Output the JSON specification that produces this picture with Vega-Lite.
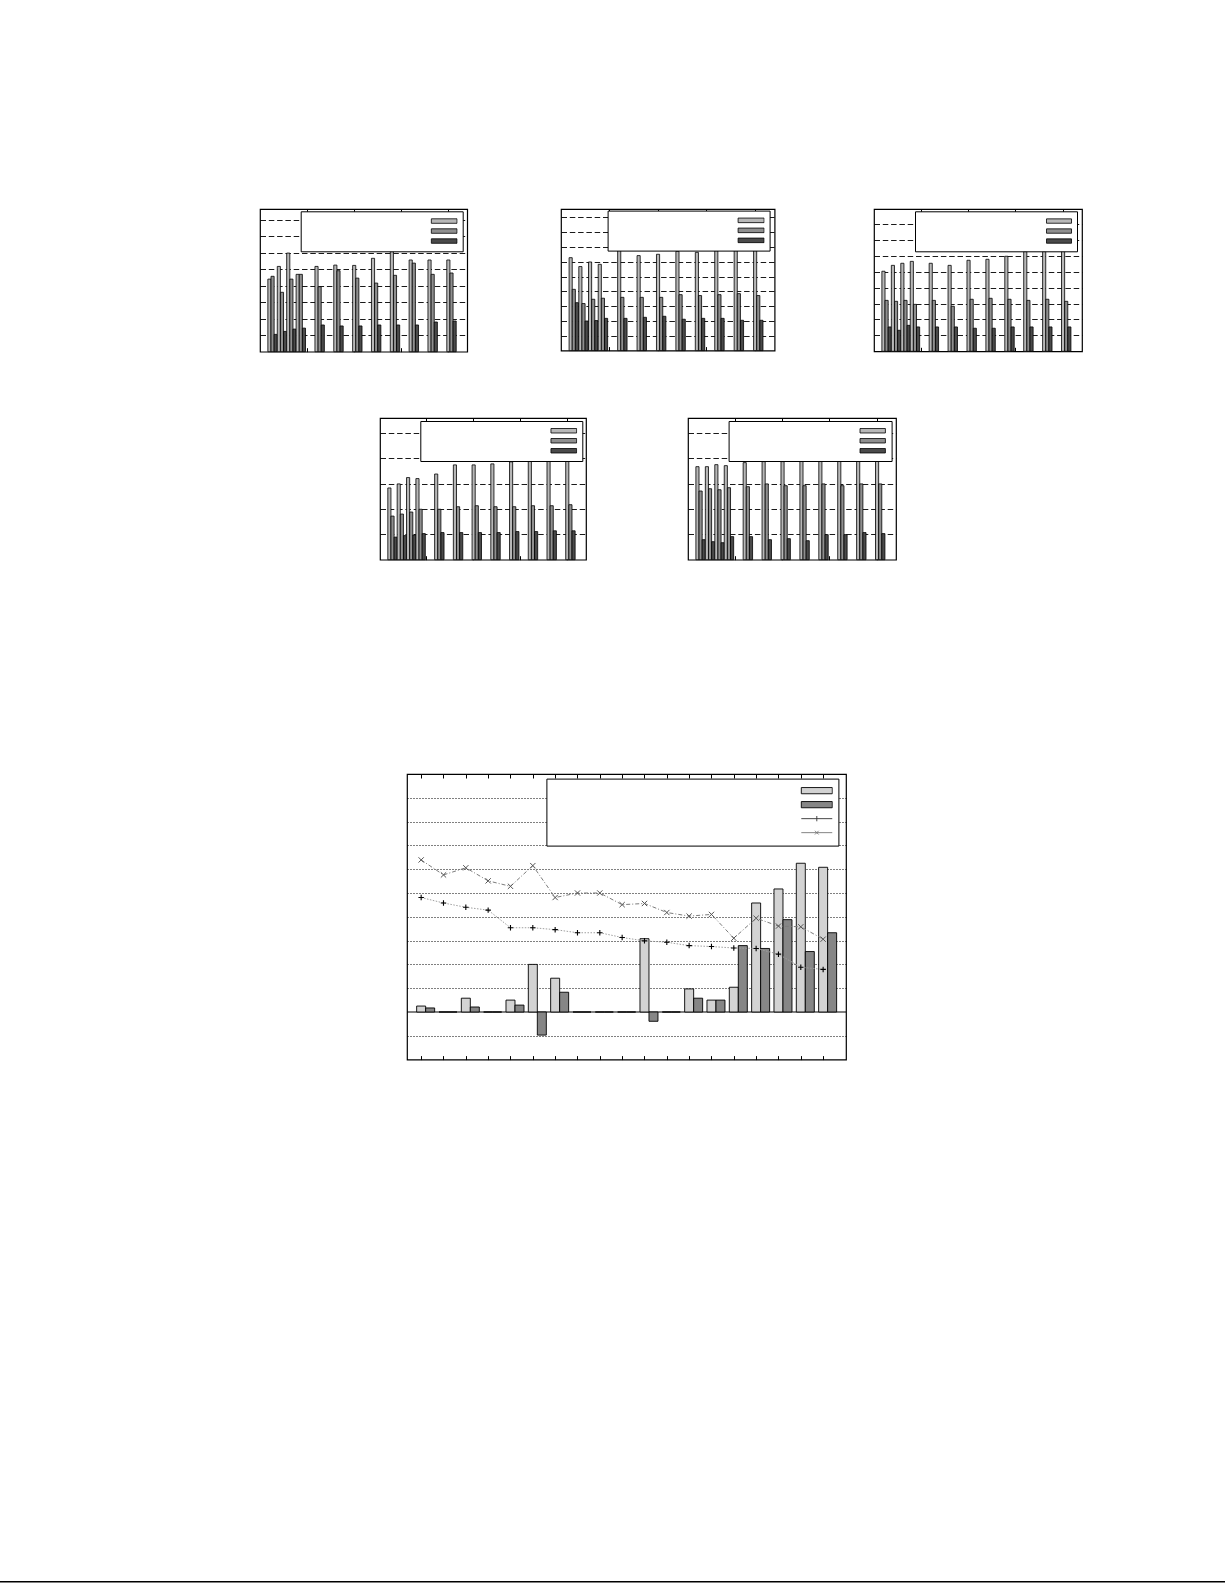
{
  "$schema": "https://vega.github.io/schema/vega-lite/v6.json",
  "padding": 0,
  "background": "white",
  "spacing": 0,
  "config": {"view": {"stroke": null}},
  "resolve": {
    "scale": {"color": "independent", "shape": "independent", "stroke": "independent", "fill": "independent"},
    "legend": {"color": "independent", "shape": "independent", "stroke": "independent", "fill": "independent"}
  },
  "datasets": {
    "c1": [
      {"x": 1, "s": "a", "v": 4.40}, {"x": 1, "s": "b", "v": 4.57}, {"x": 1, "s": "c", "v": 1.05},
      {"x": 2, "s": "a", "v": 5.17}, {"x": 2, "s": "b", "v": 3.60}, {"x": 2, "s": "c", "v": 1.23},
      {"x": 3, "s": "a", "v": 5.98}, {"x": 3, "s": "b", "v": 4.40}, {"x": 3, "s": "c", "v": 1.37},
      {"x": 4, "s": "a", "v": 4.69}, {"x": 4, "s": "b", "v": 4.69}, {"x": 4, "s": "c", "v": 1.43},
      {"x": 6, "s": "a", "v": 5.17}, {"x": 6, "s": "b", "v": 3.94}, {"x": 6, "s": "c", "v": 1.62},
      {"x": 8, "s": "a", "v": 5.25}, {"x": 8, "s": "b", "v": 4.91}, {"x": 8, "s": "c", "v": 1.56},
      {"x": 10, "s": "a", "v": 5.23}, {"x": 10, "s": "b", "v": 4.46}, {"x": 10, "s": "c", "v": 1.56},
      {"x": 12, "s": "a", "v": 5.66}, {"x": 12, "s": "b", "v": 4.16}, {"x": 12, "s": "c", "v": 1.62},
      {"x": 14, "s": "a", "v": 6.16}, {"x": 14, "s": "b", "v": 4.63}, {"x": 14, "s": "c", "v": 1.62},
      {"x": 16, "s": "a", "v": 5.56}, {"x": 16, "s": "b", "v": 5.37}, {"x": 16, "s": "c", "v": 1.62},
      {"x": 18, "s": "a", "v": 5.56}, {"x": 18, "s": "b", "v": 4.69}, {"x": 18, "s": "c", "v": 1.80},
      {"x": 20, "s": "a", "v": 5.56}, {"x": 20, "s": "b", "v": 4.77}, {"x": 20, "s": "c", "v": 1.86}
    ],
    "c2": [
      {"x": 1, "s": "a", "v": 6.28}, {"x": 1, "s": "b", "v": 4.14}, {"x": 1, "s": "c", "v": 3.24},
      {"x": 2, "s": "a", "v": 5.68}, {"x": 2, "s": "b", "v": 3.18}, {"x": 2, "s": "c", "v": 2.00},
      {"x": 3, "s": "a", "v": 5.99}, {"x": 3, "s": "b", "v": 3.47}, {"x": 3, "s": "c", "v": 2.03},
      {"x": 4, "s": "a", "v": 5.83}, {"x": 4, "s": "b", "v": 3.54}, {"x": 4, "s": "c", "v": 2.18},
      {"x": 6, "s": "a", "v": 6.85}, {"x": 6, "s": "b", "v": 3.60}, {"x": 6, "s": "c", "v": 2.18},
      {"x": 8, "s": "a", "v": 6.42}, {"x": 8, "s": "b", "v": 3.60}, {"x": 8, "s": "c", "v": 2.25},
      {"x": 10, "s": "a", "v": 6.51}, {"x": 10, "s": "b", "v": 3.60}, {"x": 10, "s": "c", "v": 2.32},
      {"x": 12, "s": "a", "v": 6.71}, {"x": 12, "s": "b", "v": 3.78}, {"x": 12, "s": "c", "v": 2.12},
      {"x": 14, "s": "a", "v": 6.64}, {"x": 14, "s": "b", "v": 3.72}, {"x": 14, "s": "c", "v": 2.18},
      {"x": 16, "s": "a", "v": 6.76}, {"x": 16, "s": "b", "v": 3.78}, {"x": 16, "s": "c", "v": 2.18},
      {"x": 18, "s": "a", "v": 6.76}, {"x": 18, "s": "b", "v": 3.85}, {"x": 18, "s": "c", "v": 2.05},
      {"x": 20, "s": "a", "v": 6.76}, {"x": 20, "s": "b", "v": 3.72}, {"x": 20, "s": "c", "v": 2.05}
    ],
    "c3": [
      {"x": 1, "s": "a", "v": 5.03}, {"x": 1, "s": "b", "v": 3.20}, {"x": 1, "s": "c", "v": 1.53},
      {"x": 2, "s": "a", "v": 5.40}, {"x": 2, "s": "b", "v": 3.14}, {"x": 2, "s": "c", "v": 1.32},
      {"x": 3, "s": "a", "v": 5.53}, {"x": 3, "s": "b", "v": 3.20}, {"x": 3, "s": "c", "v": 1.63},
      {"x": 4, "s": "a", "v": 5.65}, {"x": 4, "s": "b", "v": 2.95}, {"x": 4, "s": "c", "v": 1.53},
      {"x": 6, "s": "a", "v": 5.53}, {"x": 6, "s": "b", "v": 3.20}, {"x": 6, "s": "c", "v": 1.53},
      {"x": 8, "s": "a", "v": 5.40}, {"x": 8, "s": "b", "v": 2.83}, {"x": 8, "s": "c", "v": 1.53},
      {"x": 10, "s": "a", "v": 5.72}, {"x": 10, "s": "b", "v": 3.27}, {"x": 10, "s": "c", "v": 1.45},
      {"x": 12, "s": "a", "v": 5.78}, {"x": 12, "s": "b", "v": 3.33}, {"x": 12, "s": "c", "v": 1.45},
      {"x": 14, "s": "a", "v": 5.97}, {"x": 14, "s": "b", "v": 3.27}, {"x": 14, "s": "c", "v": 1.53},
      {"x": 16, "s": "a", "v": 6.28}, {"x": 16, "s": "b", "v": 3.20}, {"x": 16, "s": "c", "v": 1.53},
      {"x": 18, "s": "a", "v": 6.28}, {"x": 18, "s": "b", "v": 3.27}, {"x": 18, "s": "c", "v": 1.53},
      {"x": 20, "s": "a", "v": 6.37}, {"x": 20, "s": "b", "v": 3.14}, {"x": 20, "s": "c", "v": 1.53}
    ],
    "c4": [
      {"x": 1, "s": "a", "v": 2.83}, {"x": 1, "s": "b", "v": 1.72}, {"x": 1, "s": "c", "v": 0.89},
      {"x": 2, "s": "a", "v": 2.99}, {"x": 2, "s": "b", "v": 1.80}, {"x": 2, "s": "c", "v": 0.95},
      {"x": 3, "s": "a", "v": 3.24}, {"x": 3, "s": "b", "v": 1.88}, {"x": 3, "s": "c", "v": 0.97},
      {"x": 4, "s": "a", "v": 3.20}, {"x": 4, "s": "b", "v": 1.99}, {"x": 4, "s": "c", "v": 1.03},
      {"x": 6, "s": "a", "v": 3.38}, {"x": 6, "s": "b", "v": 1.99}, {"x": 6, "s": "c", "v": 1.07},
      {"x": 8, "s": "a", "v": 3.74}, {"x": 8, "s": "b", "v": 2.09}, {"x": 8, "s": "c", "v": 1.07},
      {"x": 10, "s": "a", "v": 3.74}, {"x": 10, "s": "b", "v": 2.13}, {"x": 10, "s": "c", "v": 1.07},
      {"x": 12, "s": "a", "v": 3.78}, {"x": 12, "s": "b", "v": 2.09}, {"x": 12, "s": "c", "v": 1.07},
      {"x": 14, "s": "a", "v": 3.86}, {"x": 14, "s": "b", "v": 2.09}, {"x": 14, "s": "c", "v": 1.11},
      {"x": 16, "s": "a", "v": 3.89}, {"x": 16, "s": "b", "v": 2.13}, {"x": 16, "s": "c", "v": 1.11},
      {"x": 18, "s": "a", "v": 3.95}, {"x": 18, "s": "b", "v": 2.13}, {"x": 18, "s": "c", "v": 1.14},
      {"x": 20, "s": "a", "v": 4.05}, {"x": 20, "s": "b", "v": 2.17}, {"x": 20, "s": "c", "v": 1.14}
    ],
    "c5": [
      {"x": 1, "s": "a", "v": 3.67}, {"x": 1, "s": "b", "v": 2.71}, {"x": 1, "s": "c", "v": 0.79},
      {"x": 2, "s": "a", "v": 3.67}, {"x": 2, "s": "b", "v": 2.80}, {"x": 2, "s": "c", "v": 0.71},
      {"x": 3, "s": "a", "v": 3.75}, {"x": 3, "s": "b", "v": 2.76}, {"x": 3, "s": "c", "v": 0.67},
      {"x": 4, "s": "a", "v": 3.71}, {"x": 4, "s": "b", "v": 2.84}, {"x": 4, "s": "c", "v": 0.91},
      {"x": 6, "s": "a", "v": 3.83}, {"x": 6, "s": "b", "v": 2.88}, {"x": 6, "s": "c", "v": 0.91},
      {"x": 8, "s": "a", "v": 3.87}, {"x": 8, "s": "b", "v": 2.99}, {"x": 8, "s": "c", "v": 0.79},
      {"x": 10, "s": "a", "v": 3.87}, {"x": 10, "s": "b", "v": 2.92}, {"x": 10, "s": "c", "v": 0.83},
      {"x": 12, "s": "a", "v": 4.10}, {"x": 12, "s": "b", "v": 2.92}, {"x": 12, "s": "c", "v": 0.75},
      {"x": 14, "s": "a", "v": 4.10}, {"x": 14, "s": "b", "v": 2.99}, {"x": 14, "s": "c", "v": 0.99},
      {"x": 16, "s": "a", "v": 4.10}, {"x": 16, "s": "b", "v": 2.92}, {"x": 16, "s": "c", "v": 0.99},
      {"x": 18, "s": "a", "v": 3.91}, {"x": 18, "s": "b", "v": 2.99}, {"x": 18, "s": "c", "v": 1.07},
      {"x": 20, "s": "a", "v": 4.10}, {"x": 20, "s": "b", "v": 2.99}, {"x": 20, "s": "c", "v": 1.03}
    ],
    "big": [
      {"x": 1, "s": "A", "v": 0.25}, {"x": 1, "s": "B", "v": 0.17}, {"x": 1, "s": "C", "v": 4.81}, {"x": 1, "s": "D", "v": 6.39},
      {"x": 2, "s": "A", "v": 0}, {"x": 2, "s": "B", "v": 0}, {"x": 2, "s": "C", "v": 4.58}, {"x": 2, "s": "D", "v": 5.76},
      {"x": 3, "s": "A", "v": 0.58}, {"x": 3, "s": "B", "v": 0.21}, {"x": 3, "s": "C", "v": 4.40}, {"x": 3, "s": "D", "v": 6.06},
      {"x": 4, "s": "A", "v": 0}, {"x": 4, "s": "B", "v": 0}, {"x": 4, "s": "C", "v": 4.28}, {"x": 4, "s": "D", "v": 5.51},
      {"x": 5, "s": "A", "v": 0.50}, {"x": 5, "s": "B", "v": 0.29}, {"x": 5, "s": "C", "v": 3.54}, {"x": 5, "s": "D", "v": 5.28},
      {"x": 6, "s": "A", "v": 2.00}, {"x": 6, "s": "B", "v": -0.97}, {"x": 6, "s": "C", "v": 3.54}, {"x": 6, "s": "D", "v": 6.15},
      {"x": 7, "s": "A", "v": 1.42}, {"x": 7, "s": "B", "v": 0.83}, {"x": 7, "s": "C", "v": 3.46}, {"x": 7, "s": "D", "v": 4.81},
      {"x": 8, "s": "A", "v": 0}, {"x": 8, "s": "B", "v": 0}, {"x": 8, "s": "C", "v": 3.33}, {"x": 8, "s": "D", "v": 5.00},
      {"x": 9, "s": "A", "v": 0}, {"x": 9, "s": "B", "v": 0}, {"x": 9, "s": "C", "v": 3.33}, {"x": 9, "s": "D", "v": 5.00},
      {"x": 10, "s": "A", "v": 0}, {"x": 10, "s": "B", "v": 0}, {"x": 10, "s": "C", "v": 3.13}, {"x": 10, "s": "D", "v": 4.51},
      {"x": 11, "s": "A", "v": 3.08}, {"x": 11, "s": "B", "v": -0.39}, {"x": 11, "s": "C", "v": 2.99}, {"x": 11, "s": "D", "v": 4.56},
      {"x": 12, "s": "A", "v": 0}, {"x": 12, "s": "B", "v": 0}, {"x": 12, "s": "C", "v": 2.93}, {"x": 12, "s": "D", "v": 4.18},
      {"x": 13, "s": "A", "v": 0.97}, {"x": 13, "s": "B", "v": 0.58}, {"x": 13, "s": "C", "v": 2.79}, {"x": 13, "s": "D", "v": 4.03},
      {"x": 14, "s": "A", "v": 0.50}, {"x": 14, "s": "B", "v": 0.50}, {"x": 14, "s": "C", "v": 2.75}, {"x": 14, "s": "D", "v": 4.10},
      {"x": 15, "s": "A", "v": 1.04}, {"x": 15, "s": "B", "v": 2.79}, {"x": 15, "s": "C", "v": 2.69}, {"x": 15, "s": "D", "v": 3.10},
      {"x": 16, "s": "A", "v": 4.58}, {"x": 16, "s": "B", "v": 2.67}, {"x": 16, "s": "C", "v": 2.67}, {"x": 16, "s": "D", "v": 3.94},
      {"x": 17, "s": "A", "v": 5.17}, {"x": 17, "s": "B", "v": 3.88}, {"x": 17, "s": "C", "v": 2.43}, {"x": 17, "s": "D", "v": 3.61},
      {"x": 18, "s": "A", "v": 6.25}, {"x": 18, "s": "B", "v": 2.54}, {"x": 18, "s": "C", "v": 1.88}, {"x": 18, "s": "D", "v": 3.58},
      {"x": 19, "s": "A", "v": 6.08}, {"x": 19, "s": "B", "v": 3.33}, {"x": 19, "s": "C", "v": 1.79}, {"x": 19, "s": "D", "v": 3.06}
    ]
  },
  "vconcat": [
    {"width": 1, "height": 206.8, "data": {"values": []}, "mark": {"type": "point", "opacity": 0}},
    {
      "spacing": 0,
      "resolve": {"scale": {"color": "independent"}, "legend": {"color": "independent"}},
      "hconcat": [
        {"width": 258.3, "height": 1, "data": {"values": []}, "mark": {"type": "point", "opacity": 0}},
        {
          "width": 207.2, "height": 142.7,
          "data": {"name": "c1"},
          "view": {"stroke": "black", "strokeWidth": 1.2},
          "resolve": {"axis": {"x": "independent"}},
          "layer": [
            {
              "mark": {"type": "bar", "stroke": "black", "strokeWidth": 0.8},
              "encoding": {
                "x": {"field": "x", "type": "ordinal",
                  "scale": {"domain": [1,2,3,4,5,6,7,8,9,10,11,12,13,14,15,16,17,18,19,20,21], "paddingInner": 0, "paddingOuter": 0.5, "align": 0.8333},
                  "axis": {"orient": "bottom", "values": [5,10,15,20], "tickCount": 50, "bandPosition": 0.1667, "labels": false, "domain": false, "grid": false, "tickSize": -4, "tickColor": "black", "tickWidth": 1, "title": null}},
                "xOffset": {"field": "s", "type": "nominal", "scale": {"paddingInner": 0, "paddingOuter": 0}},
                "y": {"field": "v", "type": "quantitative", "scale": {"domain": [0, 8.65], "nice": false},
                  "axis": {"values": [1,2,3,4,5,6,7,8], "tickCount": 50, "grid": true, "gridColor": "black", "gridWidth": 0.9, "gridDash": [5.5, 2.8], "gridOpacity": 1, "labels": false, "ticks": false, "domain": false, "title": null}},
                "color": {"field": "s", "type": "nominal", "scale": {"domain": ["a","b","c"], "range": ["#b8b8b8", "#8f8f8f", "#4a4a4a"]},
                  "legend": {"orient": "none", "legendX": 40.7, "legendY": 2.3, "title": null, "fillColor": "white", "strokeColor": "black", "padding": 5, "cornerRadius": 0,
                    "symbolType": "M-1,-0.175H1V0.175H-1Z", "symbolSize": 660, "symbolStrokeColor": "black", "symbolStrokeWidth": 0.8, "symbolOffset": 125,
                    "labelExpr": "''", "labelOffset": 0, "labelFontSize": 1, "clipHeight": 9.5, "rowPadding": 0, "zindex": 1}}
              }
            },
            {
              "mark": {"type": "point", "opacity": 0},
              "encoding": {
                "x": {"field": "x", "type": "ordinal",
                  "scale": {"domain": [1,2,3,4,5,6,7,8,9,10,11,12,13,14,15,16,17,18,19,20,21], "paddingInner": 0, "paddingOuter": 0.5, "align": 0.8333},
                  "axis": {"orient": "top", "values": [5,10,15,20], "tickCount": 50, "bandPosition": 0.1667, "labels": false, "domain": false, "grid": false, "tickSize": -4, "tickColor": "black", "tickWidth": 1, "title": null}}
              }
            }
          ]
        },
        {"width": 91.6, "height": 1, "data": {"values": []}, "mark": {"type": "point", "opacity": 0}},
        {
          "width": 213.6, "height": 141.6,
          "data": {"name": "c2"},
          "view": {"stroke": "black", "strokeWidth": 1.2},
          "resolve": {"axis": {"x": "independent"}},
          "layer": [
            {
              "mark": {"type": "bar", "stroke": "black", "strokeWidth": 0.8},
              "encoding": {
                "x": {"field": "x", "type": "ordinal",
                  "scale": {"domain": [1,2,3,4,5,6,7,8,9,10,11,12,13,14,15,16,17,18,19,20,21], "paddingInner": 0, "paddingOuter": 0.5, "align": 0.8333},
                  "axis": {"orient": "bottom", "values": [5,10,15,20], "tickCount": 50, "bandPosition": 0.1667, "labels": false, "domain": false, "grid": false, "tickSize": -4, "tickColor": "black", "tickWidth": 1, "title": null}},
                "xOffset": {"field": "s", "type": "nominal", "scale": {"paddingInner": 0, "paddingOuter": 0}},
                "y": {"field": "v", "type": "quantitative", "scale": {"domain": [0, 9.57], "nice": false},
                  "axis": {"values": [1,2,3,4,5,6,7,8,9], "tickCount": 50, "grid": true, "gridColor": "black", "gridWidth": 0.9, "gridDash": [5.5, 2.8], "gridOpacity": 1, "labels": false, "ticks": false, "domain": false, "title": null}},
                "color": {"field": "s", "type": "nominal", "scale": {"domain": ["a","b","c"], "range": ["#b8b8b8", "#8f8f8f", "#4a4a4a"]},
                  "legend": {"orient": "none", "legendX": 46.6, "legendY": 1.6, "title": null, "fillColor": "white", "strokeColor": "black", "padding": 5, "cornerRadius": 0,
                    "symbolType": "M-1,-0.175H1V0.175H-1Z", "symbolSize": 676, "symbolStrokeColor": "black", "symbolStrokeWidth": 0.8, "symbolOffset": 125,
                    "labelExpr": "''", "labelOffset": 0, "labelFontSize": 1, "clipHeight": 9.5, "rowPadding": 0, "zindex": 1}}
              }
            },
            {
              "mark": {"type": "point", "opacity": 0},
              "encoding": {
                "x": {"field": "x", "type": "ordinal",
                  "scale": {"domain": [1,2,3,4,5,6,7,8,9,10,11,12,13,14,15,16,17,18,19,20,21], "paddingInner": 0, "paddingOuter": 0.5, "align": 0.8333},
                  "axis": {"orient": "top", "values": [5,10,15,20], "tickCount": 50, "bandPosition": 0.1667, "labels": false, "domain": false, "grid": false, "tickSize": -4, "tickColor": "black", "tickWidth": 1, "title": null}}
              }
            }
          ]
        },
        {"width": 97.0, "height": 1, "data": {"values": []}, "mark": {"type": "point", "opacity": 0}},
        {
          "width": 208, "height": 142.3,
          "data": {"name": "c3"},
          "view": {"stroke": "black", "strokeWidth": 1.2},
          "resolve": {"axis": {"x": "independent"}},
          "layer": [
            {
              "mark": {"type": "bar", "stroke": "black", "strokeWidth": 0.8},
              "encoding": {
                "x": {"field": "x", "type": "ordinal",
                  "scale": {"domain": [1,2,3,4,5,6,7,8,9,10,11,12,13,14,15,16,17,18,19,20,21], "paddingInner": 0, "paddingOuter": 0.5, "align": 0.8333},
                  "axis": {"orient": "bottom", "values": [5,10,15,20], "tickCount": 50, "bandPosition": 0.1667, "labels": false, "domain": false, "grid": false, "tickSize": -4, "tickColor": "black", "tickWidth": 1, "title": null}},
                "xOffset": {"field": "s", "type": "nominal", "scale": {"paddingInner": 0, "paddingOuter": 0}},
                "y": {"field": "v", "type": "quantitative", "scale": {"domain": [0, 8.94], "nice": false},
                  "axis": {"values": [1,2,3,4,5,6,7,8], "tickCount": 50, "grid": true, "gridColor": "black", "gridWidth": 0.9, "gridDash": [5.5, 2.8], "gridOpacity": 1, "labels": false, "ticks": false, "domain": false, "title": null}},
                "color": {"field": "s", "type": "nominal", "scale": {"domain": ["a","b","c"], "range": ["#b8b8b8", "#8f8f8f", "#4a4a4a"]},
                  "legend": {"orient": "none", "legendX": 41, "legendY": 2.3, "title": null, "fillColor": "white", "strokeColor": "black", "padding": 5, "cornerRadius": 0,
                    "symbolType": "M-1,-0.175H1V0.175H-1Z", "symbolSize": 625, "symbolStrokeColor": "black", "symbolStrokeWidth": 0.8, "symbolOffset": 126,
                    "labelExpr": "''", "labelOffset": 0, "labelFontSize": 1, "clipHeight": 9.5, "rowPadding": 0, "zindex": 1}}
              }
            },
            {
              "mark": {"type": "point", "opacity": 0},
              "encoding": {
                "x": {"field": "x", "type": "ordinal",
                  "scale": {"domain": [1,2,3,4,5,6,7,8,9,10,11,12,13,14,15,16,17,18,19,20,21], "paddingInner": 0, "paddingOuter": 0.5, "align": 0.8333},
                  "axis": {"orient": "top", "values": [5,10,15,20], "tickCount": 50, "bandPosition": 0.1667, "labels": false, "domain": false, "grid": false, "tickSize": -4, "tickColor": "black", "tickWidth": 1, "title": null}}
              }
            }
          ]
        }
      ]
    },
    {"width": 1, "height": 62.2, "data": {"values": []}, "mark": {"type": "point", "opacity": 0}},
    {
      "spacing": 0,
      "resolve": {"scale": {"color": "independent"}, "legend": {"color": "independent"}},
      "hconcat": [
        {"width": 379.0, "height": 1, "data": {"values": []}, "mark": {"type": "point", "opacity": 0}},
        {
          "width": 206, "height": 141.7,
          "data": {"name": "c4"},
          "view": {"stroke": "black", "strokeWidth": 1.2},
          "resolve": {"axis": {"x": "independent"}},
          "layer": [
            {
              "mark": {"type": "bar", "stroke": "black", "strokeWidth": 0.8},
              "encoding": {
                "x": {"field": "x", "type": "ordinal",
                  "scale": {"domain": [1,2,3,4,5,6,7,8,9,10,11,12,13,14,15,16,17,18,19,20,21], "paddingInner": 0, "paddingOuter": 0.5, "align": 0.8333},
                  "axis": {"orient": "bottom", "values": [5,10,15,20], "tickCount": 50, "bandPosition": 0.1667, "labels": false, "domain": false, "grid": false, "tickSize": -4, "tickColor": "black", "tickWidth": 1, "title": null}},
                "xOffset": {"field": "s", "type": "nominal", "scale": {"paddingInner": 0, "paddingOuter": 0}},
                "y": {"field": "v", "type": "quantitative", "scale": {"domain": [0, 5.59], "nice": false},
                  "axis": {"values": [1,2,3,4,5], "tickCount": 50, "grid": true, "gridColor": "black", "gridWidth": 0.9, "gridDash": [5.5, 2.8], "gridOpacity": 1, "labels": false, "ticks": false, "domain": false, "title": null}},
                "color": {"field": "s", "type": "nominal", "scale": {"domain": ["a","b","c"], "range": ["#b8b8b8", "#8f8f8f", "#4a4a4a"]},
                  "legend": {"orient": "none", "legendX": 40.3, "legendY": 3, "title": null, "fillColor": "white", "strokeColor": "black", "padding": 5, "cornerRadius": 0,
                    "symbolType": "M-1,-0.175H1V0.175H-1Z", "symbolSize": 660, "symbolStrokeColor": "black", "symbolStrokeWidth": 0.8, "symbolOffset": 125,
                    "labelExpr": "''", "labelOffset": 0, "labelFontSize": 1, "clipHeight": 9.5, "rowPadding": 0, "zindex": 1}}
              }
            },
            {
              "mark": {"type": "point", "opacity": 0},
              "encoding": {
                "x": {"field": "x", "type": "ordinal",
                  "scale": {"domain": [1,2,3,4,5,6,7,8,9,10,11,12,13,14,15,16,17,18,19,20,21], "paddingInner": 0, "paddingOuter": 0.5, "align": 0.8333},
                  "axis": {"orient": "top", "values": [5,10,15,20], "tickCount": 50, "bandPosition": 0.1667, "labels": false, "domain": false, "grid": false, "tickSize": -4, "tickColor": "black", "tickWidth": 1, "title": null}}
              }
            }
          ]
        },
        {"width": 99.2, "height": 1, "data": {"values": []}, "mark": {"type": "point", "opacity": 0}},
        {
          "width": 208, "height": 141.7,
          "data": {"name": "c5"},
          "view": {"stroke": "black", "strokeWidth": 1.2},
          "resolve": {"axis": {"x": "independent"}},
          "layer": [
            {
              "mark": {"type": "bar", "stroke": "black", "strokeWidth": 0.8},
              "encoding": {
                "x": {"field": "x", "type": "ordinal",
                  "scale": {"domain": [1,2,3,4,5,6,7,8,9,10,11,12,13,14,15,16,17,18,19,20,21], "paddingInner": 0, "paddingOuter": 0.5, "align": 0.8333},
                  "axis": {"orient": "bottom", "values": [5,10,15,20], "tickCount": 50, "bandPosition": 0.1667, "labels": false, "domain": false, "grid": false, "tickSize": -4, "tickColor": "black", "tickWidth": 1, "title": null}},
                "xOffset": {"field": "s", "type": "nominal", "scale": {"paddingInner": 0, "paddingOuter": 0}},
                "y": {"field": "v", "type": "quantitative", "scale": {"domain": [0, 5.59], "nice": false},
                  "axis": {"values": [1,2,3,4,5], "tickCount": 50, "grid": true, "gridColor": "black", "gridWidth": 0.9, "gridDash": [5.5, 2.8], "gridOpacity": 1, "labels": false, "ticks": false, "domain": false, "title": null}},
                "color": {"field": "s", "type": "nominal", "scale": {"domain": ["a","b","c"], "range": ["#b8b8b8", "#8f8f8f", "#4a4a4a"]},
                  "legend": {"orient": "none", "legendX": 40.6, "legendY": 3, "title": null, "fillColor": "white", "strokeColor": "black", "padding": 5, "cornerRadius": 0,
                    "symbolType": "M-1,-0.175H1V0.175H-1Z", "symbolSize": 645, "symbolStrokeColor": "black", "symbolStrokeWidth": 0.8, "symbolOffset": 125.6,
                    "labelExpr": "''", "labelOffset": 0, "labelFontSize": 1, "clipHeight": 9.5, "rowPadding": 0, "zindex": 1}}
              }
            },
            {
              "mark": {"type": "point", "opacity": 0},
              "encoding": {
                "x": {"field": "x", "type": "ordinal",
                  "scale": {"domain": [1,2,3,4,5,6,7,8,9,10,11,12,13,14,15,16,17,18,19,20,21], "paddingInner": 0, "paddingOuter": 0.5, "align": 0.8333},
                  "axis": {"orient": "top", "values": [5,10,15,20], "tickCount": 50, "bandPosition": 0.1667, "labels": false, "domain": false, "grid": false, "tickSize": -4, "tickColor": "black", "tickWidth": 1, "title": null}}
              }
            }
          ]
        }
      ]
    },
    {"width": 1, "height": 210.6, "data": {"values": []}, "mark": {"type": "point", "opacity": 0}},
    {
      "spacing": 0,
      "resolve": {
        "scale": {"color": "independent", "shape": "independent", "stroke": "independent", "fill": "independent"},
        "legend": {"color": "independent", "shape": "independent", "stroke": "independent", "fill": "independent"}
      },
      "hconcat": [
        {"width": 404.5, "height": 1, "data": {"values": []}, "mark": {"type": "point", "opacity": 0}},
        {
          "width": 439, "height": 285.6,
          "data": {"name": "big"},
          "view": {"stroke": "black", "strokeWidth": 1.2},
          "resolve": {"axis": {"x": "independent"}},
          "layer": [
            {
              "data": {"values": [{"y": 0}]},
              "mark": {"type": "rule", "color": "black", "strokeWidth": 1.1},
              "encoding": {
                "y": {"field": "y", "type": "quantitative", "scale": {"domain": [-2, 10], "nice": false}}
              }
            },
            {
              "transform": [{"filter": "datum.s === 'A'"}],
              "mark": {"type": "bar", "width": 9, "stroke": "black", "strokeWidth": 0.9},
              "encoding": {
                "x": {"field": "x", "type": "quantitative", "scale": {"domain": [0.59, 19.8], "nice": false, "zero": false},
                  "axis": {"orient": "bottom", "values": [1,2,3,4,5,6,7,8,9,10,11,12,13,14,15,16,17,18,19], "tickCount": 50, "labels": false, "domain": false, "grid": false, "tickSize": -4, "tickColor": "black", "tickWidth": 1, "title": null}},
                "y": {"field": "v", "type": "quantitative", "scale": {"domain": [-2, 10], "nice": false},
                  "axis": {"values": [-1,1,2,3,4,5,6,7,8,9], "tickCount": 50, "grid": true, "gridColor": "black", "gridOpacity": 1, "gridDash": [1, 2], "gridWidth": 1,
                    "labels": false, "ticks": false, "domain": false, "title": null}},
                "color": {"field": "s", "type": "nominal", "scale": {"domain": ["A","B"], "range": ["#d3d3d3", "#868686"]}, "legend": null}
              }
            },
            {
              "transform": [{"filter": "datum.s === 'B'"}],
              "mark": {"type": "bar", "width": 9, "xOffset": 9, "stroke": "black", "strokeWidth": 0.9},
              "encoding": {
                "x": {"field": "x", "type": "quantitative", "axis": null},
                "y": {"field": "v", "type": "quantitative"},
                "color": {"field": "s", "type": "nominal", "legend": null}
              }
            },
            {
              "transform": [{"filter": "datum.s === 'C'"}],
              "mark": {"type": "line", "color": "#a0a0a0", "strokeWidth": 1, "strokeDash": [1.5, 1.5]},
              "encoding": {
                "x": {"field": "x", "type": "quantitative", "axis": null},
                "y": {"field": "v", "type": "quantitative"}
              }
            },
            {
              "transform": [{"filter": "datum.s === 'D'"}],
              "mark": {"type": "line", "color": "#7c7c7c", "strokeWidth": 1, "strokeDash": [4, 2, 1, 2]},
              "encoding": {
                "x": {"field": "x", "type": "quantitative", "axis": null},
                "y": {"field": "v", "type": "quantitative"}
              }
            },
            {
              "transform": [{"filter": "datum.s === 'C'"}],
              "mark": {"type": "point", "shape": "M-1,0H1M0,-1V1", "filled": false, "color": "black", "size": 30, "strokeWidth": 1.1, "opacity": 1},
              "encoding": {
                "x": {"field": "x", "type": "quantitative", "axis": null},
                "y": {"field": "v", "type": "quantitative"}
              }
            },
            {
              "transform": [{"filter": "datum.s === 'D'"}],
              "mark": {"type": "point", "shape": "M-1,-1L1,1M-1,1L1,-1", "filled": false, "color": "#555555", "size": 28, "strokeWidth": 1, "opacity": 1},
              "encoding": {
                "x": {"field": "x", "type": "quantitative", "axis": null},
                "y": {"field": "v", "type": "quantitative"}
              }
            },
            {
              "transform": [{"filter": "datum.s === 'Z'"}],
              "mark": {"type": "point"},
              "encoding": {
                "shape": {"field": "s", "type": "nominal",
                  "scale": {"domain": ["A","B","C","D"], "range": ["M-1,-0.2H1V0.2H-1Z", "M-1,-0.2H1V0.2H-1Z", "M-1,0H1M0,-0.17V0.17", "M-1,0H1M-0.12,-0.12L0.12,0.12M-0.12,0.12L0.12,-0.12"]},
                  "legend": {"orient": "none", "legendX": 139.4, "legendY": 4.6, "title": null, "fillColor": "white", "strokeColor": "black", "padding": 5.4, "cornerRadius": 0,
                    "symbolSize": 961, "symbolOffset": 249, "symbolStrokeWidth": 0.9, "symbolOpacity": 1,
                    "labelExpr": "''", "labelOffset": 0, "labelFontSize": 1, "clipHeight": 13.3, "rowPadding": 0, "zindex": 1}},
                "fill": {"field": "s", "type": "nominal",
                  "scale": {"domain": ["A","B","C","D"], "range": ["#d3d3d3", "#868686", "transparent", "transparent"]},
                  "legend": {"orient": "none", "legendX": 139.4, "legendY": 4.6, "title": null, "fillColor": "white", "strokeColor": "black", "padding": 5.4, "cornerRadius": 0,
                    "symbolSize": 961, "symbolOffset": 249, "symbolStrokeWidth": 0.9, "symbolOpacity": 1,
                    "labelExpr": "''", "labelOffset": 0, "labelFontSize": 1, "clipHeight": 13.3, "rowPadding": 0, "zindex": 1}},
                "stroke": {"field": "s", "type": "nominal",
                  "scale": {"domain": ["A","B","C","D"], "range": ["#000000", "#000000", "#333333", "#777777"]},
                  "legend": {"orient": "none", "legendX": 139.4, "legendY": 4.6, "title": null, "fillColor": "white", "strokeColor": "black", "padding": 5.4, "cornerRadius": 0,
                    "symbolSize": 961, "symbolOffset": 249, "symbolStrokeWidth": 0.9, "symbolOpacity": 1,
                    "labelExpr": "''", "labelOffset": 0, "labelFontSize": 1, "clipHeight": 13.3, "rowPadding": 0, "zindex": 1}}
              }
            },
            {
              "transform": [{"filter": "datum.s === 'A'"}],
              "mark": {"type": "point", "opacity": 0},
              "encoding": {
                "x": {"field": "x", "type": "quantitative",
                  "axis": {"orient": "top", "values": [1,2,3,4,5,6,7,8,9,10,11,12,13,14,15,16,17,18,19], "tickCount": 50, "labels": false, "domain": false, "grid": false, "tickSize": -4, "tickColor": "black", "tickWidth": 1, "title": null}}
              }
            }
          ]
        }
      ]
    },
    {"width": 1, "height": 520.0, "data": {"values": []}, "mark": {"type": "point", "opacity": 0}},
    {"width": 1225, "height": 1.5, "data": {"values": []}, "mark": {"type": "point", "opacity": 0}, "view": {"fill": "black", "stroke": null}}
  ]
}
